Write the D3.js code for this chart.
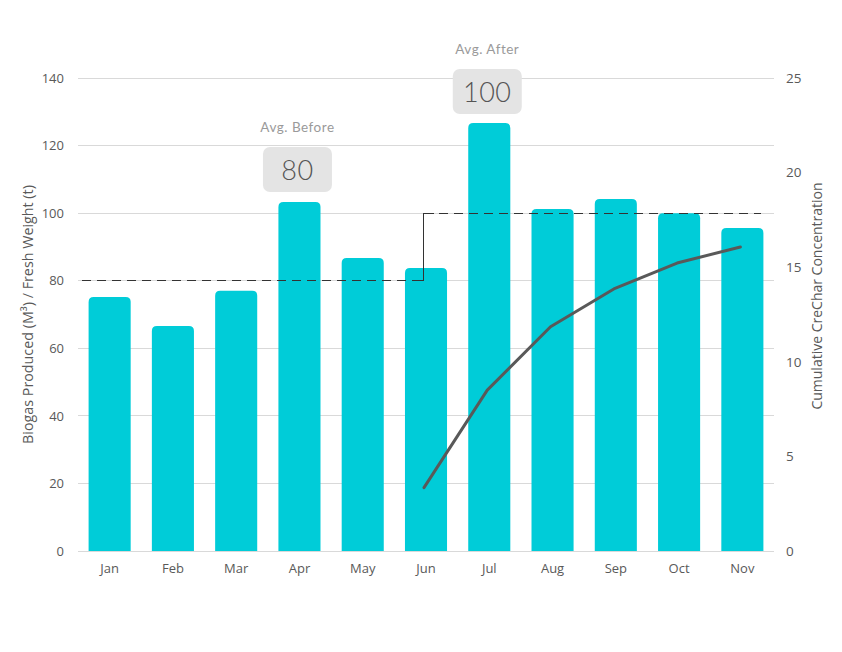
<!DOCTYPE html>
<html><head><meta charset="utf-8">
<script src="https://cdn.jsdelivr.net/npm/d3@7"></script>
<style>body{margin:0;background:#fff}svg{display:block}</style>
</head><body>
<svg id="c" width="842" height="652"></svg>
<script>
const months = ["Jan","Feb","Mar","Apr","May","Jun","Jul","Aug","Sep","Oct","Nov"];
const biogas = [75.2, 66.6, 77, 103.3, 86.7, 83.8, 126.7, 101.2, 104.2, 100, 95.6];
const creCharMonths = ["Jun","Jul","Aug","Sep","Oct","Nov"];
const creChar = [3.35, 8.5, 11.85, 13.85, 15.22, 16.07];
const leftTicks = [0,20,40,60,80,100,120,140];
const rightTicks = [0,5,10,15,20,25];
const avgBefore = 80, avgAfter = 100;
const avgBeforeLabelMonth = "Apr", avgAfterLabelMonth = "Jul", switchMonth = "Jun";

const svg = d3.select("#c");
const m = {l:78, r:774, t:78, b:551};
const x = d3.scaleBand().domain(months).range([m.l, m.r]).paddingInner(0.335).paddingOuter(0.1675);
const y = d3.scaleLinear().domain([0,140]).range([m.b, m.t]);
const y2 = d3.scaleLinear().domain([0,25]).range([m.b, m.t]);
const font = "'Open Sans', sans-serif";
const tcol = "#595959";

// gridlines
svg.append("g").selectAll("line").data(leftTicks).join("line")
  .attr("x1", m.l).attr("x2", m.r).attr("y1", d=>y(d)).attr("y2", d=>y(d))
  .attr("stroke", "#d9d9d9").attr("stroke-width", 1).attr("shape-rendering","crispEdges");

// left axis
const la = svg.append("g").attr("transform", `translate(${m.l},0)`)
  .call(d3.axisLeft(y).tickValues(leftTicks).tickSize(0).tickPadding(14));
la.select(".domain").remove();
la.selectAll("text").attr("font-family", font).attr("font-size", 13).attr("fill", tcol);

// right axis
const ra = svg.append("g").attr("transform", `translate(${m.r},0)`)
  .call(d3.axisRight(y2).tickValues(rightTicks).tickSize(0).tickPadding(12));
ra.select(".domain").remove();
ra.selectAll("text").attr("font-family", font).attr("font-size", 13.5).attr("fill", tcol);

// bottom axis
const ba = svg.append("g").attr("transform", `translate(0,${m.b})`)
  .call(d3.axisBottom(x).tickSize(0).tickPadding(13));
ba.select(".domain").remove();
ba.selectAll("text").attr("font-family", font).attr("font-size", 13).attr("fill", tcol);

// bars with rounded tops
const r = 5;
svg.append("g").selectAll("path").data(months.map((mo,i)=>({mo, v: biogas[i]}))).join("path")
  .attr("fill", "#00CCD8")
  .attr("d", d => {
    const x0 = x(d.mo), w = x.bandwidth(), yt = y(d.v), yb = y(0);
    return `M${x0},${yb}V${yt+r}Q${x0},${yt} ${x0+r},${yt}H${x0+w-r}Q${x0+w},${yt} ${x0+w},${yt+r}V${yb}Z`;
  });

// average step line
const xs = x(switchMonth) + x.bandwidth()/2 - 2.5;
const xStart = m.l + 4, xEnd = x(months[months.length-1]) + x.bandwidth() - 2;
svg.append("path")
  .attr("d", `M${xStart},${y(avgBefore)}H${xs}`)
  .attr("stroke", "#333").attr("stroke-width", 1).attr("fill","none").attr("stroke-dasharray","9,6").attr("shape-rendering","crispEdges");
svg.append("path")
  .attr("d", `M${xs-10},${y(avgBefore)}H${xs}V${y(avgAfter)}H${xs+10}`)
  .attr("stroke", "#333").attr("stroke-width", 1).attr("fill","none").attr("shape-rendering","crispEdges");
svg.append("path")
  .attr("d", `M${xs},${y(avgAfter)}H${xEnd}`)
  .attr("stroke", "#333").attr("stroke-width", 1).attr("fill","none").attr("stroke-dasharray","9,6").attr("shape-rendering","crispEdges");

// CreChar line
const line = d3.line().x((d,i)=>x(creCharMonths[i]) + x.bandwidth()/2 - 2).y(d=>y2(d));
svg.append("path").datum(creChar).attr("d", line)
  .attr("fill","none").attr("stroke","#595959").attr("stroke-width",3).attr("stroke-linecap","round").attr("stroke-linejoin","round");

// avg labels
function avgLabel(month, value, title, boxTop) {
  const cx = x(month) + x.bandwidth()/2 - 2;
  const g = svg.append("g");
  g.append("text").attr("x", cx).attr("y", boxTop - 15).attr("text-anchor","middle")
    .attr("font-family", "Lato, sans-serif").attr("font-size", 13.5).attr("fill", "#9a9a9a").attr("letter-spacing", 0.5).text(title);
  g.append("rect").attr("x", cx - 34.5).attr("y", boxTop).attr("width", 69).attr("height", 45)
    .attr("rx", 7).attr("fill", "#e4e4e4");
  g.append("text").attr("x", cx).attr("y", boxTop + 33).attr("text-anchor","middle")
    .attr("font-family", "Lato, sans-serif").attr("font-weight", 300).attr("font-size", 27).attr("fill", "#555").attr("letter-spacing", 0.5).text(value);
}
avgLabel(avgBeforeLabelMonth, avgBefore, "Avg. Before", 147);
avgLabel(avgAfterLabelMonth, avgAfter, "Avg. After", 69);

// axis titles
svg.append("text").attr("transform", `translate(33,${(m.t+m.b)/2}) rotate(-90)`)
  .attr("text-anchor","middle").attr("font-family", font).attr("font-size", 14.3).attr("fill", tcol)
  .text("Biogas Produced (M³) / Fresh Weight (t)");
svg.append("text").attr("transform", `translate(822,296) rotate(-90)`)
  .attr("text-anchor","middle").attr("font-family", font).attr("font-size", 14).attr("fill", tcol)
  .text("Cumulative CreChar Concentration");
</script>
</body></html>
